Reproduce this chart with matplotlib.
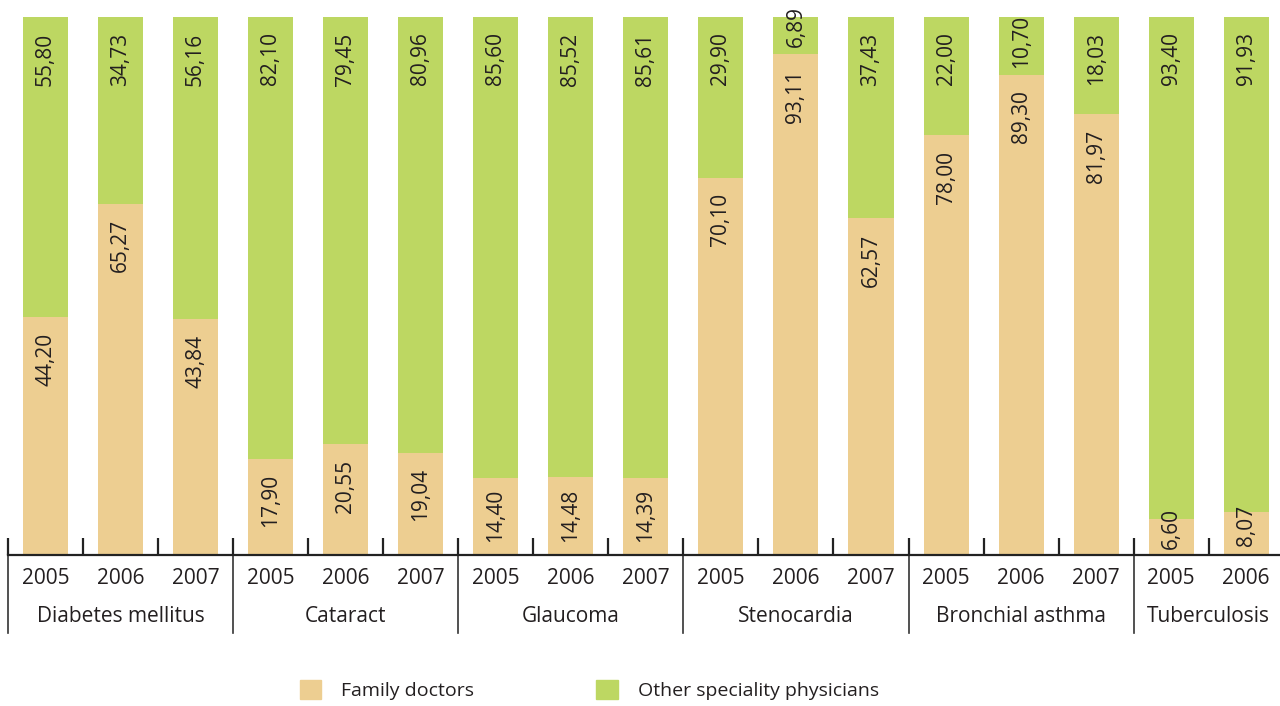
import matplotlib
matplotlib.use("Agg")
import matplotlib.pyplot as plt
import numpy as np
from matplotlib.patches import Patch
from matplotlib.transforms import blended_transform_factory

categories = ["Diabetes mellitus", "Cataract", "Glaucoma", "Stenocardia",
              "Bronchial asthma", "Tuberculosis"]
years = [["2005", "2006", "2007"], ["2005", "2006", "2007"],
         ["2005", "2006", "2007"], ["2005", "2006", "2007"],
         ["2005", "2006", "2007"], ["2005", "2006"]]
family = [44.20, 65.27, 43.84, 17.90, 20.55, 19.04, 14.40, 14.48, 14.39,
          70.10, 93.11, 62.57, 78.00, 89.30, 81.97, 6.60, 8.07]
other = [55.80, 34.73, 56.16, 82.10, 79.45, 80.96, 85.60, 85.52, 85.61,
         29.90, 6.89, 37.43, 22.00, 10.70, 18.03, 93.40, 91.93]

FAMILY_COLOR = "#EDCE91"
OTHER_COLOR = "#BDD762"
TEXT_COLOR = "#231F20"

plt.rcParams["font.family"] = ["Open Sans", "DejaVu Sans"]


def fmt(v):
    return f"{v:.2f}".replace(".", ",")


def main():
    fig = plt.figure(figsize=(12.8, 7.06), dpi=100)
    ax = fig.add_axes([8 / 1280, 151 / 706, 1272 / 1280, 538 / 706])

    x = np.arange(len(family))
    fam = np.array(family)
    oth = np.array(other)
    ax.bar(x, fam, width=0.6, color=FAMILY_COLOR, linewidth=0)
    ax.bar(x, oth, width=0.6, bottom=fam, color=OTHER_COLOR, linewidth=0)

    # value labels sit just below the top of each segment
    for xi, f, o in zip(x, fam, oth):
        for bottom, h in ((0, f), (f, o)):
            top = bottom + h
            offset = min(7.8, 0.7 * h - 3.0)
            ax.text(xi, top - offset, fmt(h), rotation=90, ha="center",
                    va="center", fontsize=15, color=TEXT_COLOR, clip_on=False)

    ax.set_xlim(-0.5, 16.45)
    ax.set_ylim(0, 100)
    for s in ("top", "right", "left"):
        ax.spines[s].set_visible(False)
    ax.spines["bottom"].set_linewidth(1.6)
    ax.spines["bottom"].set_color("#222222")
    ax.set_yticks([])
    ax.set_xticks(np.arange(-0.5, 16, 1))
    ax.set_xticklabels([])
    ax.tick_params(axis="x", direction="in", length=12, width=1.6,
                   color="#222222")

    trans = blended_transform_factory(ax.transData, ax.transAxes)
    ypx = 538.0
    start = 0
    for cat, yrs in zip(categories, years):
        n = len(yrs)
        ax.plot([start - 0.5, start - 0.5], [0, -78 / ypx], transform=trans,
                color="#333333", lw=1.2, clip_on=False)
        for k, yr in enumerate(yrs):
            ax.text(start + k, -23 / ypx, yr, transform=trans, ha="center",
                    va="center", fontsize=15, color=TEXT_COLOR)
        ax.text(start + (n - 1) / 2, -62 / ypx, cat, transform=trans,
                ha="center", va="center", fontsize=15, color=TEXT_COLOR)
        start += n

    handles = [Patch(color=FAMILY_COLOR, label="Family doctors"),
               Patch(color=OTHER_COLOR, label="Other speciality physicians")]
    fig.legend(handles=handles, loc="center left",
               bbox_to_anchor=(282 / 1280, 16 / 706), ncol=2, frameon=False,
               fontsize=14, handlelength=1.13, handleheight=1.13,
               handletextpad=1.0, columnspacing=6.3, labelcolor=TEXT_COLOR)

    fig.savefig("out.png", dpi=100)


if __name__ == "__main__":
    main()
